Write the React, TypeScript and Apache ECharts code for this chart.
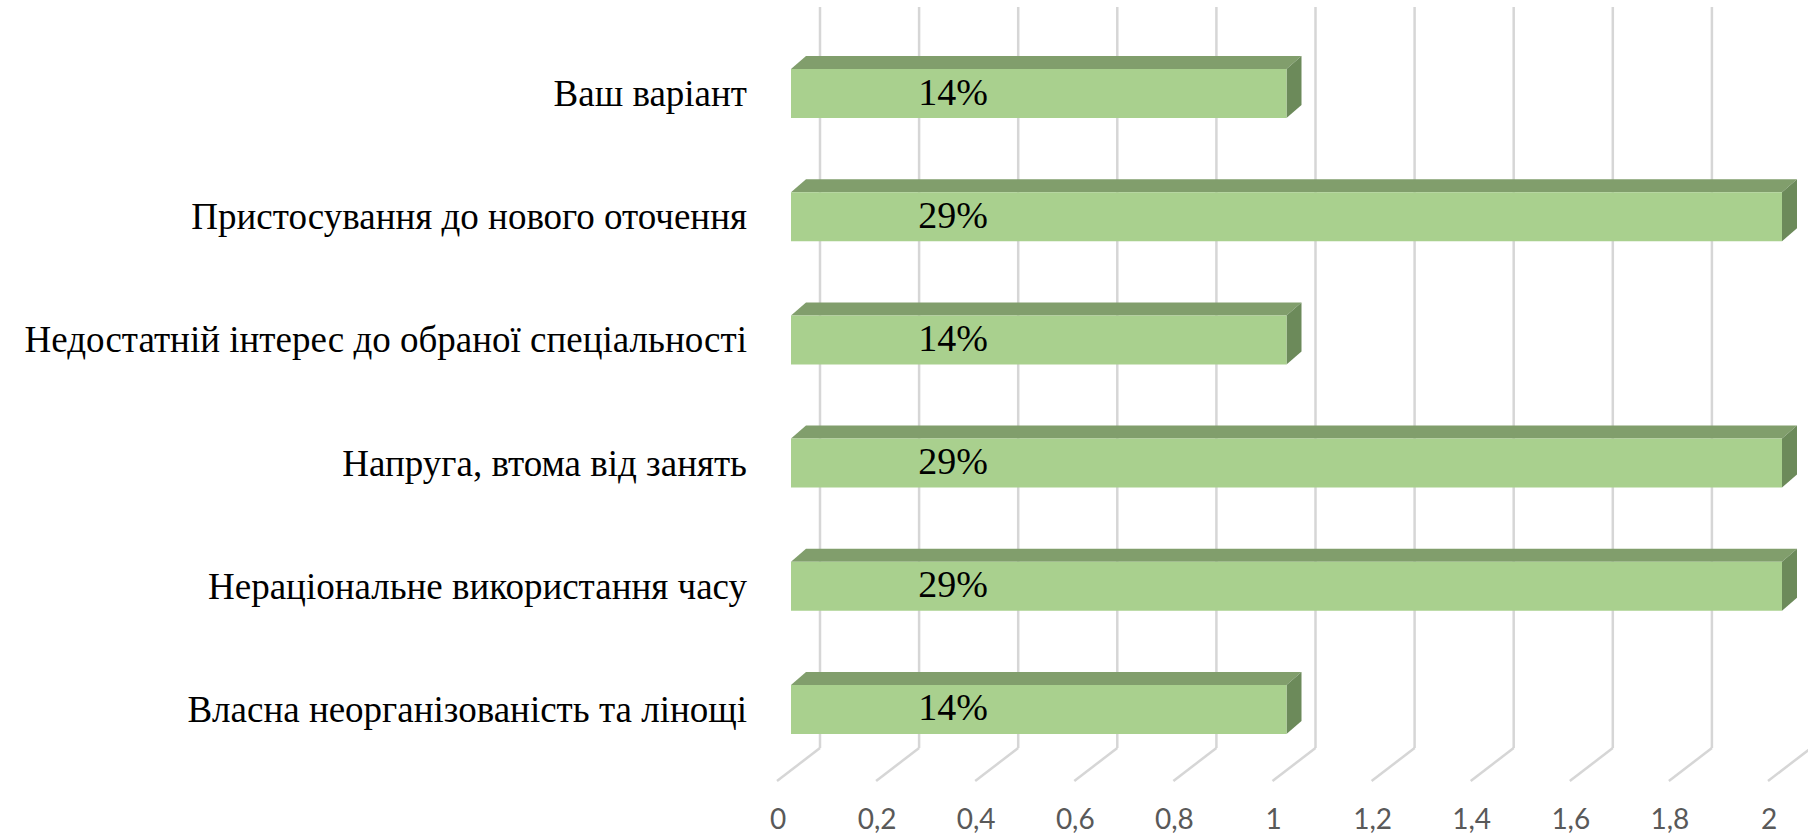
import React, { useEffect, useRef } from "react";
import * as echarts from "echarts";

const categories = [
  "Ваш варіант",
  "Пристосування до нового оточення",
  "Недостатній інтерес до обраної спеціальності",
  "Напруга, втома від занять",
  "Нераціональне використання часу",
  "Власна неорганізованість та лінощі",
];
const values = [1, 2, 1, 2, 2, 1];
const percentLabels = ["14%", "29%", "14%", "29%", "29%", "14%"];
const ticks = [0, 0.2, 0.4, 0.6, 0.8, 1, 1.2, 1.4, 1.6, 1.8, 2];

const FRONT = "#A9D08E";
const TOP = "#819E6C";
const SIDE = "#6C8A5A";
const GRID = "#D6D6D6";
const SERIF = "'Liberation Serif', 'DejaVu Serif', 'Times New Roman', serif";

export default function App() {
  const ref = useRef<HTMLDivElement>(null);
  useEffect(() => {
    if (!ref.current) return;
    const chart = echarts.init(ref.current, null, { renderer: "svg" });
    const DX = 15;
    const DY = 13;
    const BAR_H = 49;
    const option = {
      animation: false,
      backgroundColor: "#ffffff",
      grid: { left: 791, right: 26, top: 32, bottom: 65, containLabel: false },
      xAxis: {
        type: "value",
        min: 0,
        max: 2,
        interval: 0.2,
        splitLine: { show: false },
        axisLine: { show: false },
        axisTick: { show: false },
        axisLabel: {
          margin: 33,
          padding: [0, 26, 0, 0],
          color: "#595959",
          fontSize: 28,
          lineHeight: 28,
          fontFamily: "Lato",
          formatter: (v: number) => String(Math.round(v * 10) / 10).replace(".", ","),
        },
      },
      yAxis: {
        type: "category",
        inverse: true,
        data: categories,
        axisLine: { show: false },
        axisTick: { show: false },
        splitLine: { show: false },
        axisLabel: {
          margin: 44,
          color: "#000000",
          fontSize: 37,
          fontFamily: SERIF,
        },
      },
      series: [
        {
          type: "custom",
          z: 1,
          silent: true,
          clip: false,
          encode: { x: 0 },
          data: ticks.map((t) => [t, 0]),
          renderItem: (params: any, api: any) => {
            const cs = params.coordSys;
            const x = api.coord([api.value(0), 0])[0];
            const top = cs.y - 25;
            const backBottom = cs.y + cs.height - 23;
            const front = cs.y + cs.height + 10;
            const style = { stroke: GRID, lineWidth: 2.5 };
            return {
              type: "group",
              children: [
                { type: "line", shape: { x1: x + 29, y1: top, x2: x + 29, y2: backBottom }, style },
                { type: "line", shape: { x1: x + 29, y1: backBottom, x2: x - 14, y2: front }, style },
              ],
            };
          },
        },
        {
          type: "custom",
          z: 2,
          clip: false,
          encode: { x: 0, y: 1 },
          data: categories.map((c, i) => [values[i], i, percentLabels[i]]),
          renderItem: (params: any, api: any) => {
            const idx = api.value(1);
            const v = api.value(0);
            const p0 = api.coord([0, idx]);
            const p1 = api.coord([v, idx]);
            const x0 = p0[0];
            const x1 = p1[0];
            const yt = p0[1] - BAR_H / 2;
            const yb = p0[1] + BAR_H / 2;
            const label = percentLabels[params.dataIndex];
            return {
              type: "group",
              children: [
                {
                  type: "polygon",
                  shape: { points: [[x0, yt], [x1, yt], [x1 + DX, yt - DY], [x0 + DX, yt - DY]] },
                  style: { fill: TOP },
                },
                {
                  type: "polygon",
                  shape: { points: [[x1, yt], [x1 + DX, yt - DY], [x1 + DX, yb - DY], [x1, yb]] },
                  style: { fill: SIDE },
                },
                {
                  type: "rect",
                  shape: { x: x0, y: yt, width: x1 - x0, height: BAR_H },
                  style: { fill: FRONT },
                },
                {
                  type: "text",
                  x: x0 + 162,
                  y: p0[1] - 2,
                  style: {
                    text: label,
                    fill: "#000000",
                    fontSize: 38,
                    fontFamily: SERIF,
                    align: "center",
                    verticalAlign: "middle",
                  },
                },
              ],
            };
          },
        },
      ],
    };
    chart.setOption(option as any);
    return () => chart.dispose();
  }, []);
  return (
    <div
      ref={ref}
      style={{ position: "fixed", left: 0, top: 0, width: 1808, height: 836, background: "#fff" }}
    />
  );
}
